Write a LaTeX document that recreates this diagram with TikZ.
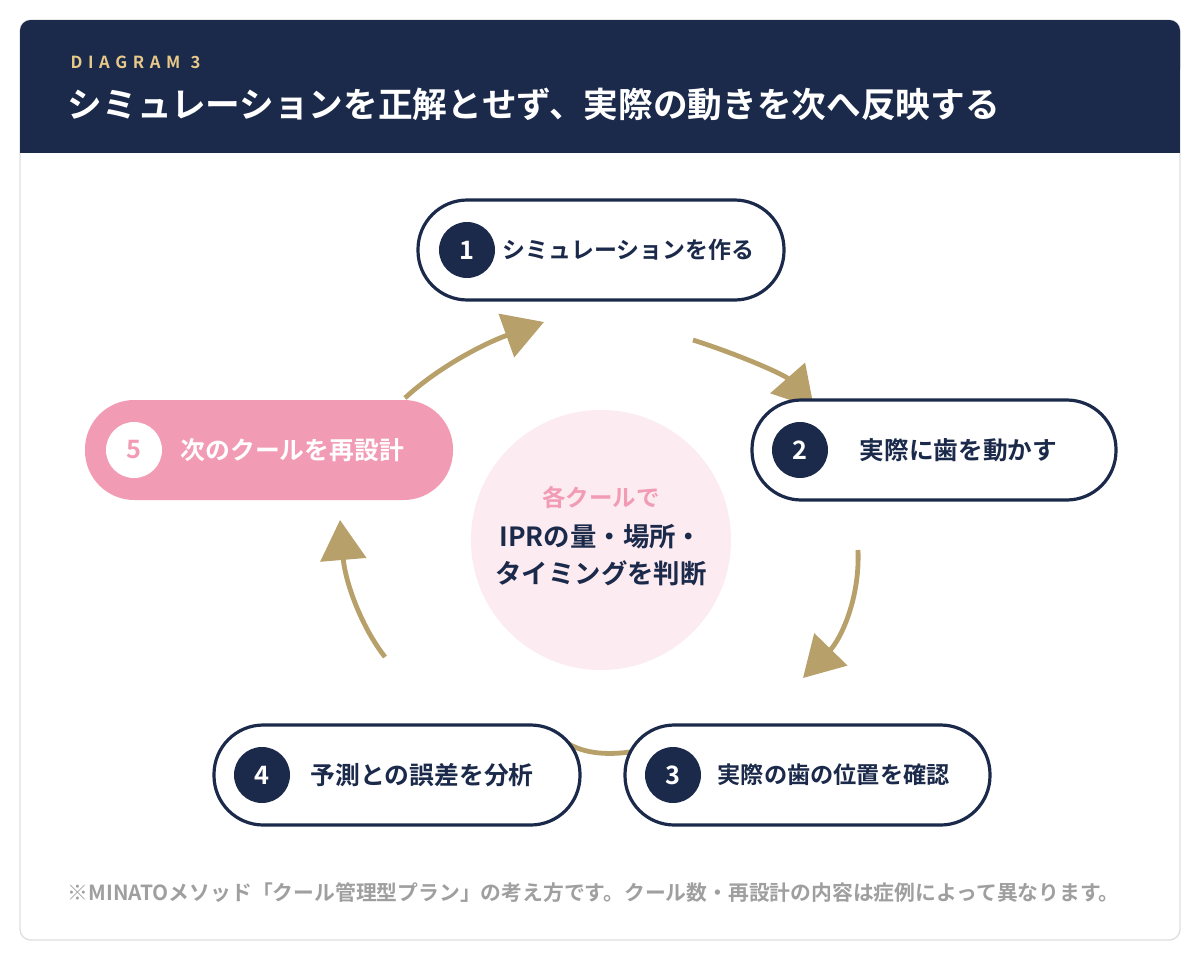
\documentclass[tikz,border=0pt]{standalone}
\usepackage{fontspec}
\setmainfont{Noto Sans CJK JP}[BoldFont={* Bold}]
\newfontfamily\jp{Noto Sans CJK JP Bold}
\usetikzlibrary{arrows.meta}
\definecolor{navy}{HTML}{1B2A4A}
\definecolor{tan}{HTML}{B8A06A}
\definecolor{pk}{HTML}{F29BB5}
\definecolor{pkl}{HTML}{FCEBF0}
\definecolor{gold}{HTML}{E8C98A}
\newcommand{\fs}[1]{\jp\fontsize{#1}{#1}\selectfont}
\begin{document}
\begin{tikzpicture}[x=0.75pt,y=-0.75pt,
  pill/.style={draw=navy,line width=2.4pt,fill=white,rounded corners=37pt},
  num/.style={circle,fill=navy,minimum size=42pt,inner sep=0,text=white,font=\fs{19}},
  lab/.style={text=navy,anchor=west},
  arr/.style={draw=tan,line width=3.6pt,-{Triangle[length=30pt,width=34pt]}}]
\useasboundingbox (0,0) rectangle (1200,960);
\fill[white] (0,0) rectangle (1200,960);
\draw[gray!25,line width=1pt,rounded corners=8pt] (20,20) rectangle (1180,940);
\fill[navy,rounded corners=8pt] (20,20) rectangle (1180,80);
\fill[navy] (20,60) rectangle (1180,153);
\node[anchor=west,text=gold,font=\fs{12.5}] (hd) at (66,62) {D\,\,I\,\,A\,\,G\,\,R\,\,A\,\,M\,\ \ 3};
\node[anchor=west,text=white,font=\fs{26}] (tt) at (63,104) {シミュレーションを正解とせず、実際の動きを次へ反映する};
% center circle
\fill[pkl] (601,540) circle (130);
\node[text=pk,font=\fs{17.6}] (c1) at (601,497) {各クールで};
\node[text=navy,font=\fs{19.8},align=center] (c2) at (601,555) {IPRの量・場所・\\[8pt]タイミングを判断};
% arrow anchors
\coordinate (a1s) at (693,340); \coordinate (a1e) at (814,408);
\coordinate (a2s) at (858,550); \coordinate (a2e) at (803,678);
\coordinate (a3s) at (630,752); \coordinate (a3e) at (558,736);
\coordinate (a4s) at (385,657); \coordinate (a4e) at (340,520);
\coordinate (a5s) at (405,398); \coordinate (a5e) at (544,322);
\draw[arr] (a1s) .. controls (740,355) and (785,375) .. (a1e);
\draw[arr] (a2s) .. controls (860,600) and (840,640) .. (a2e);
\draw[draw=tan,line width=3.6pt] (a3s) .. controls (600,756) and (575,752) .. (a3e);
\draw[arr] (a4s) .. controls (360,625) and (345,580) .. (a4e);
\draw[arr] (a5s) .. controls (435,370) and (480,345) .. (a5e);
% nodes
\draw[pill] (418,200) rectangle (784,300);
\node[num] (n1) at (467,250) {1};
\node[lab,font=\fs{17.2}] (t1) at (498,250) {シミュレーションを作る};
\draw[pill] (752,400) rectangle (1116,500);
\node[num] (n2) at (800,450) {2};
\node[lab,font=\fs{18.5}] (t2) at (855,450) {実際に歯を動かす};
\draw[pill] (625,725) rectangle (990,825);
\node[num] (n3) at (673,775) {3};
\node[lab,font=\fs{17.4}] (t3) at (713,775) {実際の歯の位置を確認};
\draw[pill] (214,725) rectangle (580,825);
\node[num] (n4) at (262,775) {4};
\node[lab,font=\fs{18.6}] (t4) at (306,775) {予測との誤差を分析};
\fill[pk,rounded corners=37pt] (85,400) rectangle (453,500);
\node[num,fill=white,text=pk] (n5) at (134,450) {5};
\node[lab,text=white,font=\fs{18.6}] (t5) at (176,450) {次のクールを再設計};
\node[anchor=west,text=gray!75,font=\fs{15.6}] (fn) at (63,893) {※MINATOメソッド「クール管理型プラン」の考え方です。クール数・再設計の内容は症例によって異なります。};
\end{tikzpicture}
\end{document}
